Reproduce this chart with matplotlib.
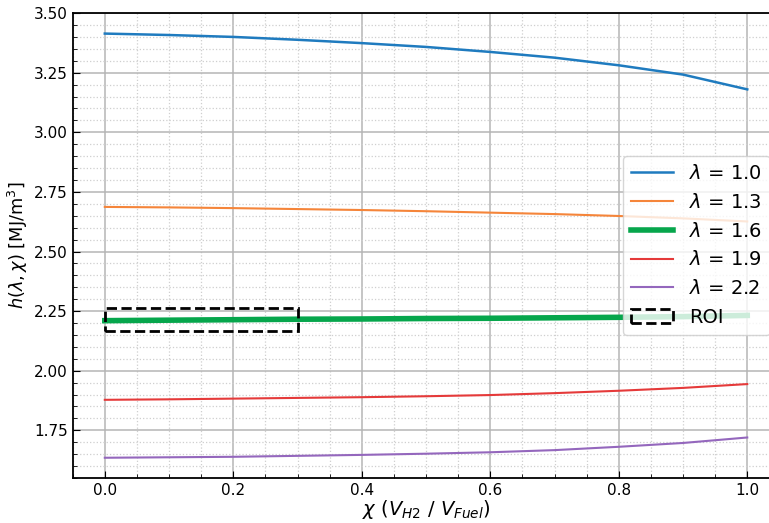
import matplotlib
matplotlib.use("Agg")
import matplotlib.pyplot as plt
from matplotlib.patches import Rectangle
from matplotlib.ticker import MultipleLocator, FormatStrFormatter

chi = [0.0, 0.1, 0.2, 0.3, 0.4, 0.5, 0.6, 0.7, 0.8, 0.9, 1.0]
h_10 = [3.414, 3.408, 3.400, 3.388, 3.374, 3.358, 3.337, 3.313, 3.281, 3.242, 3.180]
h_13 = [2.687, 2.685, 2.682, 2.678, 2.674, 2.669, 2.663, 2.657, 2.649, 2.639, 2.626]
h_16 = [2.210, 2.212, 2.214, 2.216, 2.217, 2.219, 2.220, 2.222, 2.224, 2.227, 2.232]
h_19 = [1.878, 1.880, 1.883, 1.886, 1.889, 1.893, 1.898, 1.906, 1.916, 1.928, 1.944]
h_22 = [1.635, 1.637, 1.639, 1.643, 1.647, 1.652, 1.658, 1.667, 1.681, 1.697, 1.720]
labels = [r"$\lambda$ = 1.0", r"$\lambda$ = 1.3", r"$\lambda$ = 1.6", r"$\lambda$ = 1.9", r"$\lambda$ = 2.2"]
roi_x = [0.0, 0.3]
roi_y = [2.165, 2.265]

fig = plt.figure(figsize=(7.69, 5.23), dpi=100)
ax = fig.add_axes([0.0945, 0.086, 0.919, 0.889])

series = [h_10, h_13, h_16, h_19, h_22]
colors = ["#1f7bbf", "#f5853a", "#06a64c", "#e53a3a", "#9467bd"]
widths = [1.8, 1.5, 4.0, 1.5, 1.5]
for s, c, w, l in zip(series, colors, widths, labels):
    ax.plot(chi, s, color=c, lw=w, label=l)

roi = Rectangle((roi_x[0], roi_y[0]), roi_x[1] - roi_x[0], roi_y[1] - roi_y[0],
                fill=False, ec="black", ls="--", lw=2, label="ROI", zorder=5)
ax.add_patch(roi)

ax.set_xlim(-0.05, 1.05)
ax.set_ylim(1.55, 3.50)
ax.xaxis.set_major_locator(MultipleLocator(0.2))
ax.xaxis.set_minor_locator(MultipleLocator(0.05))
ax.yaxis.set_major_locator(MultipleLocator(0.25))
ax.yaxis.set_minor_locator(MultipleLocator(0.05))
ax.yaxis.set_major_formatter(FormatStrFormatter("%.2f"))
ax.tick_params(which="both", direction="in", labelsize=11)
ax.tick_params(which="major", length=5)
ax.tick_params(which="minor", length=3)
ax.grid(which="major", color="#b5b5b5", lw=1.1)
ax.grid(which="minor", color="#cfcfcf", lw=0.9, ls=":")
ax.set_axisbelow(True)
for sp in ax.spines.values():
    sp.set_linewidth(1.3)

ax.set_xlabel(r"$\chi$ ($V_{H2}$ / $V_{Fuel}$)", fontsize=14, labelpad=0)
ax.set_ylabel(r"$h(\lambda, \chi)$ [MJ/m$^3$]", fontsize=12.8, labelpad=3)
ax.legend(loc="center right", fontsize=14, framealpha=0.8, handlelength=2.2)

fig.savefig("out.png", dpi=100)
